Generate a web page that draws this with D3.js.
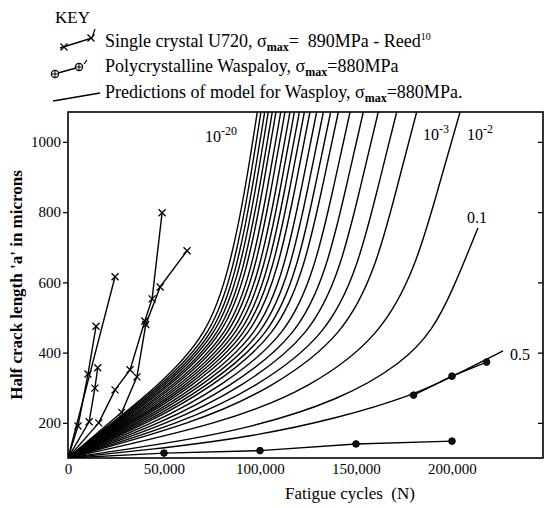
<!DOCTYPE html>
<html>
<head>
<meta charset="utf-8">
<script src="https://cdn.jsdelivr.net/npm/d3@7"></script>
<style>
body { margin: 0; background: #fff; }
svg text { font-family: "Liberation Serif", "Times New Roman", serif; fill: #000; }
</style>
</head>
<body>
<svg id="chart" width="548" height="508"></svg>
<script>
// crack lengths (microns) shared by the model curves
let levels = [100, 200, 300, 450, 650, 850, 1085]

// cycles N at which each model curve (10^-20 ... 10^-2) reaches the levels above
let modelN = [
  [0, 23000, 46000, 73000, 84500, 91900, 98600],
  [0, 23700, 47200, 75200, 86600, 93700, 100500],
  [0, 24500, 48400, 77000, 88400, 95500, 102450],
  [0, 25200, 49600, 78600, 90200, 97300, 104300],
  [0, 26100, 50900, 80500, 92100, 99200, 106400],
  [0, 26900, 52100, 82100, 93900, 101000, 108300],
  [0, 28000, 53700, 84300, 96200, 103400, 110800],
  [0, 28900, 55100, 86100, 98200, 105400, 113000],
  [0, 30000, 56800, 88300, 100500, 107900, 115600],
  [0, 31100, 58400, 90300, 102700, 110100, 117900],
  [0, 32300, 60100, 92500, 105000, 112500, 120500],
  [0, 33400, 61900, 94700, 107400, 115000, 123100],
  [0, 34800, 63800, 97100, 110000, 117700, 126000],
  [0, 36500, 66300, 100000, 113200, 121000, 129500],
  [0, 38200, 68700, 103000, 116400, 124300, 133000],
  [0, 40200, 71500, 106200, 119900, 127900, 136800],
  [0, 42200, 74400, 109500, 123500, 131700, 140800],
  [0, 45400, 78900, 114700, 129100, 137500, 146900],
  [0, 49300, 84100, 120500, 135400, 144000, 153800],
  [0, 53800, 90200, 127100, 142500, 151400, 161600],
  [0, 59600, 98000, 135200, 151300, 160500, 171200],
  [0, 66200, 106700, 144000, 160800, 170400, 181600],
  [0, 81700, 126600, 163400, 181500, 191900, 204200]
]

// the two lowest model curves, [N, a]
let curve01 = [[0, 100], [50000, 140], [94800, 185], [141700, 265], [174500, 371], [190100, 465], [200500, 579], [213500, 755]]
let curve05 = [[0, 100], [50000, 128], [94800, 160], [140000, 212], [180000, 279], [200500, 333], [226600, 405]]

// single crystal U720 (Reed), [N, a]
let u720 = [
  [[0, 100], [5200, 191], [10400, 339], [14600, 475]],
  [[0, 100], [24500, 616]],
  [[0, 100], [11000, 203], [14000, 299], [15500, 357]],
  [[0, 100], [16000, 200], [24500, 294], [32300, 351], [40000, 490], [43800, 553], [49000, 798]],
  [[0, 100], [28000, 230], [35900, 331], [40500, 480], [48000, 587], [62000, 690]]
]

// polycrystalline Waspaloy, [N, a]
let waspaloy = [
  [[0, 100], [50000, 114], [100000, 121], [150000, 140], [200000, 148]],
  [[180000, 279], [200000, 333], [218000, 373]]
]

let xTicks = [0, 50000, 100000, 150000, 200000]
let yTicks = [200, 400, 600, 800, 1000]

// curve labels: main text, superscript, anchor [N, a]
let curveLabels = [
  ["10", "-20", [71400, 1000]],
  ["10", "-3", [184900, 1005]],
  ["10", "-2", [207800, 1005]],
  ["0.1", "", [207800, 769]],
  ["0.5", "", [230200, 379]]
]

let plotLeft = 68
let plotRight = 543
let plotTop = 112
let plotBottom = 458

let svg = d3.select("#chart")

let xScale = d3.scaleLinear().domain([0, 247400]).range([plotLeft, plotRight])
let yScale = d3.scaleLinear().domain([100, 1085]).range([plotBottom, plotTop])

svg.append("defs").append("clipPath").attr("id", "plot")
  .append("rect")
  .attr("x", plotLeft).attr("y", plotTop)
  .attr("width", plotRight - plotLeft).attr("height", plotBottom - plotTop)

let smooth = d3.line()
  .x(d => xScale(d[0]))
  .y(d => yScale(d[1]))
  .curve(d3.curveBasis)

let straight = d3.line()
  .x(d => xScale(d[0]))
  .y(d => yScale(d[1]))

let modelCurves = modelN.map(ns => ns.map((n, i) => [n, levels[i]]))
modelCurves.push(curve01, curve05)

let plot = svg.append("g").attr("clip-path", "url(#plot)")

plot.selectAll("path.model")
  .data(modelCurves)
  .enter()
  .append("path")
  .attr("class", "model")
  .attr("d", smooth)
  .attr("fill", "none")
  .attr("stroke", "#000")
  .attr("stroke-width", 1.4)

plot.selectAll("path.u720")
  .data(u720)
  .enter()
  .append("path")
  .attr("class", "u720")
  .attr("d", straight)
  .attr("fill", "none")
  .attr("stroke", "#000")
  .attr("stroke-width", 1.4)

plot.selectAll("path.wasp")
  .data(waspaloy)
  .enter()
  .append("path")
  .attr("class", "wasp")
  .attr("d", straight)
  .attr("fill", "none")
  .attr("stroke", "#000")
  .attr("stroke-width", 1.4)

let crossPath = "M-3.5,-3.5L3.5,3.5M-3.5,3.5L3.5,-3.5"

plot.selectAll("path.cross")
  .data(u720.flat().filter(d => d[0] > 0))
  .enter()
  .append("path")
  .attr("class", "cross")
  .attr("transform", d => "translate(" + xScale(d[0]) + "," + yScale(d[1]) + ")")
  .attr("d", crossPath)
  .attr("stroke", "#000")
  .attr("stroke-width", 1.3)

plot.selectAll("circle.dot")
  .data(waspaloy.flat().filter(d => d[0] > 0))
  .enter()
  .append("circle")
  .attr("class", "dot")
  .attr("cx", d => xScale(d[0]))
  .attr("cy", d => yScale(d[1]))
  .attr("r", 3.3)
  .attr("fill", "#111")
  .attr("stroke", "#000")
  .attr("stroke-width", 1)

// axes
let yAxis = d3.axisLeft(yScale).tickValues(yTicks).tickSizeInner(5).tickSizeOuter(0).tickPadding(2).tickFormat(d3.format("d"))
svg.append("g")
  .attr("transform", "translate(" + plotLeft + ",0)")
  .call(yAxis)
  .call(g => g.select(".domain").remove())
  .attr("font-family", null)
  .attr("font-size", 15)
  .selectAll("line").attr("stroke-width", 1.3)

let yAxisRight = d3.axisRight(yScale).tickValues(yTicks).tickSizeInner(-5).tickSizeOuter(0).tickFormat("")
svg.append("g")
  .attr("transform", "translate(" + plotRight + ",0)")
  .call(yAxisRight)
  .call(g => g.select(".domain").remove())
  .selectAll("line").attr("stroke-width", 1.3)

let xAxis = d3.axisBottom(xScale).tickValues(xTicks).tickSizeInner(0).tickSizeOuter(0).tickPadding(5).tickFormat(d3.format(","))
svg.append("g")
  .attr("transform", "translate(0," + plotBottom + ")")
  .call(xAxis)
  .call(g => g.select(".domain").remove())
  .attr("font-family", null)
  .attr("font-size", 15)

svg.append("rect")
  .attr("x", plotLeft).attr("y", plotTop)
  .attr("width", plotRight - plotLeft).attr("height", plotBottom - plotTop)
  .attr("fill", "none")
  .attr("stroke", "#000")
  .attr("stroke-width", 1.6)

// axis titles
svg.append("text")
  .attr("transform", "translate(22," + (plotTop + plotBottom) / 2 + ") rotate(-90)")
  .attr("text-anchor", "middle")
  .attr("font-weight", "bold")
  .attr("font-size", 17)
  .text("Half crack length 'a' in microns")

svg.append("text")
  .attr("x", 350)
  .attr("y", 499)
  .attr("text-anchor", "middle")
  .attr("font-size", 17)
  .style("white-space", "pre")
  .text("Fatigue cycles  (N)")

// curve labels
curveLabels.forEach(l => {
  let t = svg.append("text")
    .attr("x", xScale(l[2][0]))
    .attr("y", yScale(l[2][1]))
    .attr("font-size", 16)
  t.append("tspan").text(l[0])
  if (l[1]) {
    t.append("tspan").attr("dy", -7).attr("font-size", 12).text(l[1])
  }
})

// key
let key = svg.append("g")

key.append("text").attr("x", 55).attr("y", 23).attr("font-size", 17).text("KEY")

let keyRows = [
  [47, "Single crystal U720, \u03c3", "=  890MPa - Reed", "10"],
  [72, "Polycrystalline Waspaloy, \u03c3", "=880MPa", ""],
  [98, "Predictions of model for Wasploy, \u03c3", "=880MPa.", ""]
]

keyRows.forEach(r => {
  let t = key.append("text")
    .attr("x", 105)
    .attr("y", r[0])
    .attr("font-size", 18)
    .style("white-space", "pre")
  t.append("tspan").text(r[1])
  t.append("tspan").attr("dy", 4).attr("font-size", 12).attr("font-weight", "bold").text("max")
  t.append("tspan").attr("dy", -4).text(r[2])
  if (r[3]) {
    t.append("tspan").attr("dy", -7).attr("font-size", 10).text(r[3])
  }
})

// key symbols
key.append("path").attr("d", "M60,48L92,38").attr("stroke", "#000").attr("stroke-width", 1.4)
key.append("path").attr("d", "M92,38L95,29").attr("stroke", "#000").attr("stroke-width", 1.2)
key.selectAll("path.kcross")
  .data([[64, 47], [91, 38]])
  .enter()
  .append("path")
  .attr("class", "kcross")
  .attr("transform", d => "translate(" + d[0] + "," + d[1] + ")")
  .attr("d", crossPath)
  .attr("stroke", "#000")
  .attr("stroke-width", 1.3)

key.append("path").attr("d", "M58,73L76,68").attr("stroke", "#000").attr("stroke-width", 1.4)
key.append("path").attr("d", "M84,64L87,60").attr("stroke", "#000").attr("stroke-width", 1.2)
key.selectAll("g.kdot")
  .data([[55, 74], [79, 67]])
  .enter()
  .append("g")
  .attr("class", "kdot")
  .attr("transform", d => "translate(" + d[0] + "," + d[1] + ")")
  .each(function () {
    let g = d3.select(this)
    g.append("circle").attr("r", 3.6).attr("fill", "#fff").attr("stroke", "#000").attr("stroke-width", 1.2)
    g.append("path").attr("d", "M-3.6,0L3.6,0M0,-3.6L0,3.6").attr("stroke", "#000").attr("stroke-width", 1)
  })

key.append("path").attr("d", "M53,101L100,93").attr("stroke", "#000").attr("stroke-width", 1.5)
</script>
</body>
</html>
